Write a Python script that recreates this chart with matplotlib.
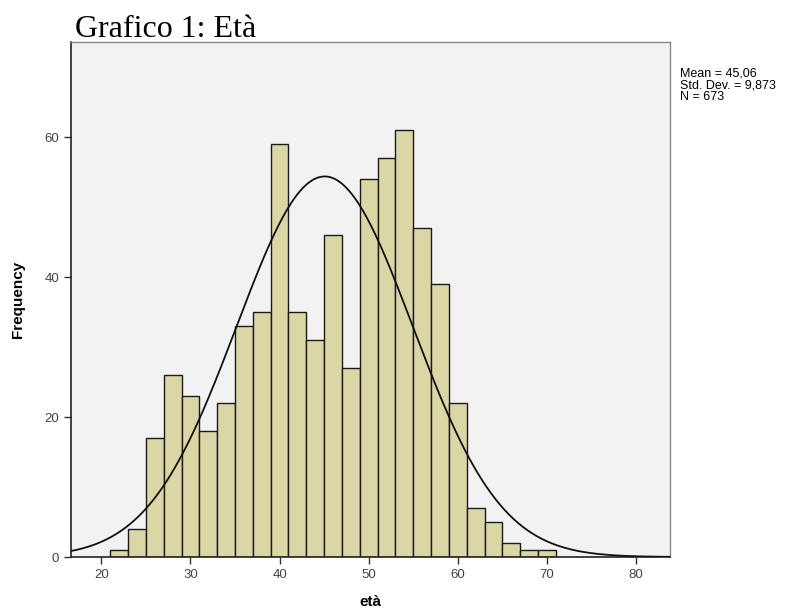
import numpy as np
import matplotlib
matplotlib.use("Agg")
import matplotlib.pyplot as plt

# Data
bin_edges = list(range(21, 73, 2))
counts = [1, 4, 17, 26, 23, 18, 22, 33, 35, 59, 35, 31, 46, 27, 54, 57, 61, 47, 39, 22, 7, 5, 2, 1, 1]
mean_val = 45.06
std_val = 9.873
n_val = 673
x_ticks = [20, 30, 40, 50, 60, 70, 80]
y_ticks = [0, 20, 40, 60]

fig = plt.figure(figsize=(8.02, 6.12), dpi=100)
ax = fig.add_axes([71/802, 1-557/612, (670-71)/802, (557-42)/612])
ax.set_facecolor('#f2f2f2')

lefts = bin_edges[:-1]
widths = [bin_edges[i+1]-bin_edges[i] for i in range(len(lefts))]
ax.bar(lefts, counts, width=widths, align='edge', color='#dbd6a6',
       edgecolor='#1a1a1a', linewidth=1.0, zorder=2)

xlim = (16.6, 83.8)
xs = np.linspace(xlim[0], xlim[1], 400)
bw = 2
ys = n_val * bw / (std_val * np.sqrt(2*np.pi)) * np.exp(-0.5*((xs-mean_val)/std_val)**2)
ax.plot(xs, ys, color='#111111', linewidth=1.3, zorder=3)

ax.set_xlim(*xlim)
ax.set_ylim(0, 73.6)
ax.set_xticks(x_ticks)
ax.set_yticks(y_ticks)
ax.tick_params(axis='both', direction='out', length=5, width=1, color='#333333',
               labelsize=9.5, labelcolor='#444444')
for lab in ax.get_xticklabels() + ax.get_yticklabels():
    lab.set_family('Liberation Sans')
for s in ['top', 'right']:
    ax.spines[s].set_color('#888888')
    ax.spines[s].set_linewidth(1)
for s in ['left', 'bottom']:
    ax.spines[s].set_color('#222222')
    ax.spines[s].set_linewidth(1.2)

ax.set_xlabel('età', family='Liberation Sans', fontweight='bold', fontsize=11, labelpad=10)
ax.set_ylabel('Frequency', family='Liberation Sans', fontweight='bold', fontsize=11, labelpad=14)

fig.text(75/802, 1-37/612, 'Grafico 1: Età', family='Liberation Serif', fontsize=23,
         ha='left', va='baseline')
fig.text(680/802, 1-67/612, 'Mean = %s\nStd. Dev. = %s\nN = %d' % (
    ('%.2f' % mean_val).replace('.', ','), ('%.3f' % std_val).replace('.', ','), n_val),
    family='Liberation Sans', fontsize=9, ha='left', va='top', linespacing=1.0)

fig.savefig('out.png', dpi=100)
